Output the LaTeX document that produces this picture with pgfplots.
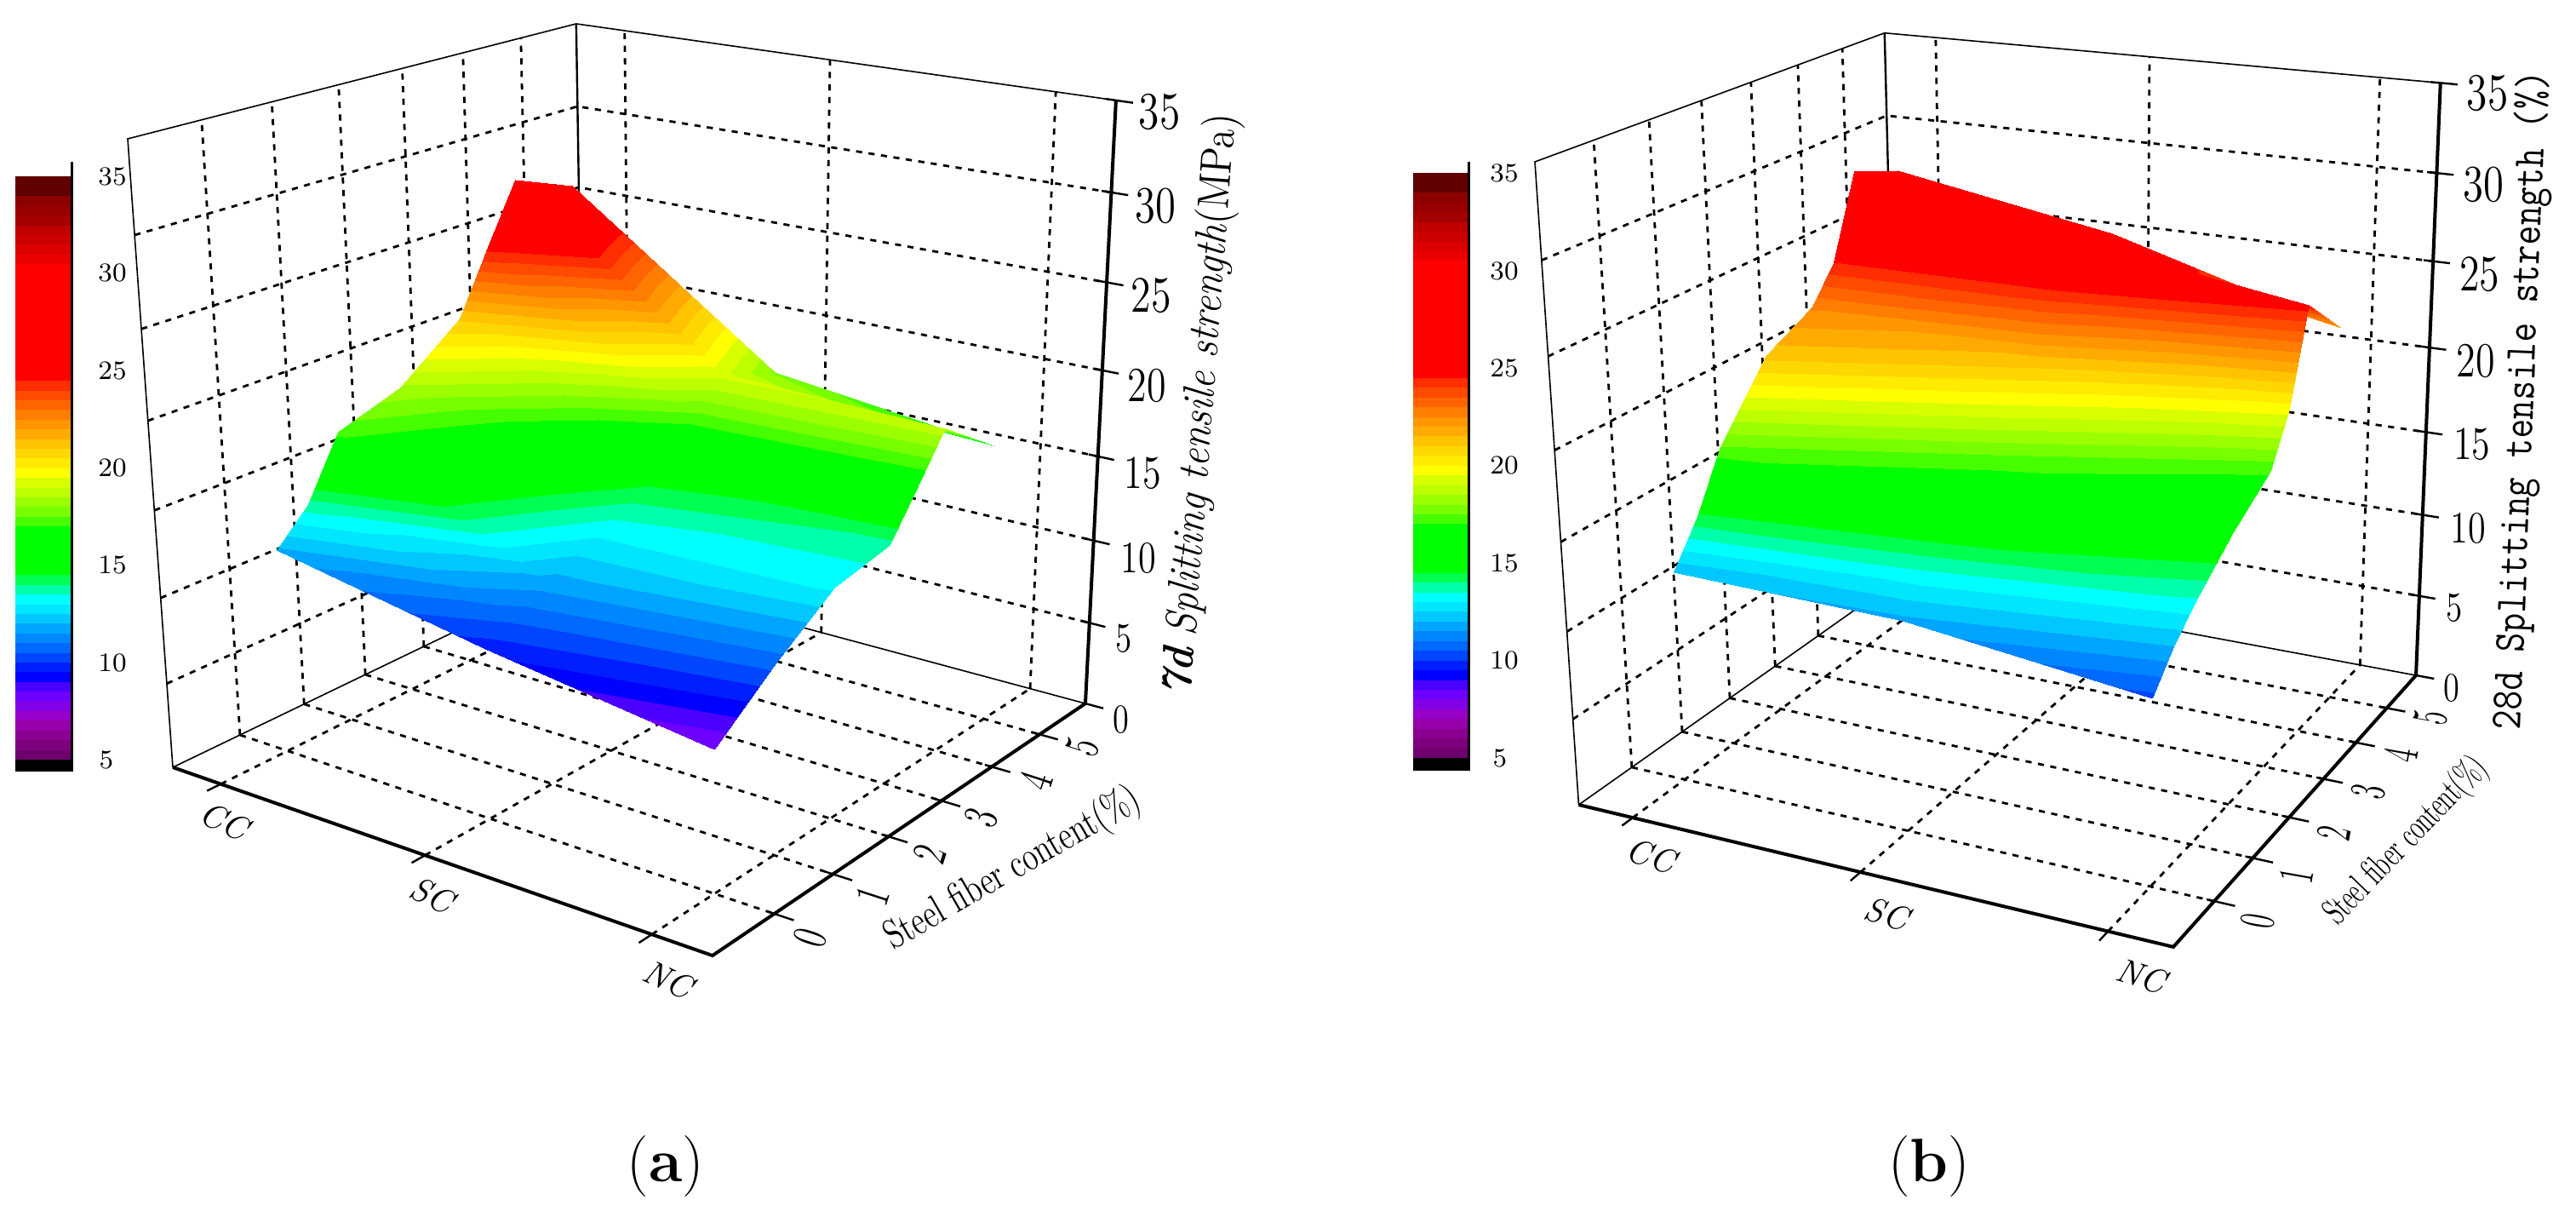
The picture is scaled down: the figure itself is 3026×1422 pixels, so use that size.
\documentclass[border=0pt]{standalone}
\usepackage{pgfplots}
\usepackage{pgfplotstable}
\pgfplotsset{compat=1.18}

% one band per 0.5 MPa, 4.5 (black) up to 35
\pgfplotsset{colormap={bands}{
  rgb255=(0,0,0)
  rgb255=(110,0,110) rgb255=(125,0,125) rgb255=(140,0,145) rgb255=(150,0,170)
  rgb255=(150,0,200) rgb255=(130,0,230) rgb255=(110,0,255) rgb255=(75,0,255)
  rgb255=(0,0,255) rgb255=(0,30,255) rgb255=(0,70,255) rgb255=(0,105,255)
  rgb255=(0,135,255) rgb255=(0,165,255) rgb255=(0,200,255) rgb255=(0,230,255)
  rgb255=(0,255,255) rgb255=(0,255,170) rgb255=(0,255,80)
  rgb255=(0,255,0) rgb255=(0,255,0) rgb255=(0,255,0) rgb255=(0,255,0) rgb255=(0,255,0)
  rgb255=(70,255,0) rgb255=(120,255,0) rgb255=(155,255,0) rgb255=(190,255,0)
  rgb255=(215,255,0) rgb255=(255,255,0)
  rgb255=(255,235,0) rgb255=(255,215,0) rgb255=(255,195,0) rgb255=(255,170,0)
  rgb255=(255,150,0) rgb255=(255,125,0) rgb255=(255,100,0) rgb255=(255,75,0) rgb255=(255,45,0)
  rgb255=(255,0,0) rgb255=(255,0,0) rgb255=(255,0,0) rgb255=(255,0,0)
  rgb255=(255,0,0) rgb255=(255,0,0) rgb255=(255,0,0) rgb255=(255,0,0)
  rgb255=(255,0,0) rgb255=(255,0,0) rgb255=(255,0,0) rgb255=(255,0,0)
  rgb255=(235,0,0) rgb255=(220,0,0) rgb255=(205,0,0) rgb255=(190,0,0)
  rgb255=(165,0,0) rgb255=(150,0,0) rgb255=(140,0,0) rgb255=(96,0,0) rgb255=(96,0,0)
}}

% c: 1=CC 2=SC 3=NC, f: fiber content, z: strength; rear rows first
\pgfplotstableread{
c f z
1 5   26.7
2 5   17.9
3 5   16.4
1 4   28.1
2 4   19.2
3 4   18.8
1 3.5 24.7
2 3.5 17.3
3 3.5 16.3
1 3   21.1
2 3   15.0
3 3   13.8
1 2   18.4
2 2   13.3
3 2   13.1
1 1   17.2
2 1   11.8
3 1   10.7
1 0.5 13.8
2 0.5 10.7
3 0.5 9.4
1 0   11.9
2 0   9.7
3 0   7.95
}\sevenday

\pgfplotstableread{
c f z
1 5   28.1
2 5   25.9
3 5   22.1
1 4   29.2
2 4   26.8
3 4   24.8
1 3.5 24.5
2 3.5 24.3
3 3.5 19.7
1 3   22.6
2 3   21.3
3 3   17.1
1 2   21.2
2 2   17.5
3 2   15.4
1 1   17.5
2 1   14.9
3 1   13.3
1 0.5 14.4
2 0.5 13.2
3 0.5 11.9
1 0   12.1
2 0   11.85
3 0   10.3
}\twentyeightday

% dashed grid on floor and walls
\pgfplotstableread[row sep=\\]{
c f z\\
1 -1 0\\ 1 6 0\\ nan nan nan\\ 2 -1 0\\ 2 6 0\\ nan nan nan\\ 3 -1 0\\ 3 6 0\\ nan nan nan\\
.75 0 0\\ 3.25 0 0\\ nan nan nan\\ .75 1 0\\ 3.25 1 0\\ nan nan nan\\ .75 2 0\\ 3.25 2 0\\ nan nan nan\\
.75 3 0\\ 3.25 3 0\\ nan nan nan\\ .75 4 0\\ 3.25 4 0\\ nan nan nan\\ .75 5 0\\ 3.25 5 0\\ nan nan nan\\
.75 0 0\\ .75 0 35\\ nan nan nan\\ .75 1 0\\ .75 1 35\\ nan nan nan\\ .75 2 0\\ .75 2 35\\ nan nan nan\\
.75 3 0\\ .75 3 35\\ nan nan nan\\ .75 4 0\\ .75 4 35\\ nan nan nan\\ .75 5 0\\ .75 5 35\\ nan nan nan\\
.75 -1 5\\ .75 6 5\\ 3.25 6 5\\ nan nan nan\\ .75 -1 10\\ .75 6 10\\ 3.25 6 10\\ nan nan nan\\
.75 -1 15\\ .75 6 15\\ 3.25 6 15\\ nan nan nan\\ .75 -1 20\\ .75 6 20\\ 3.25 6 20\\ nan nan nan\\
.75 -1 25\\ .75 6 25\\ 3.25 6 25\\ nan nan nan\\ .75 -1 30\\ .75 6 30\\ 3.25 6 30\\ nan nan nan\\
1 6 0\\ 1 6 35\\ nan nan nan\\ 2 6 0\\ 2 6 35\\ nan nan nan\\ 3 6 0\\ 3 6 35\\
}\gridlines

\pgfplotstableread[row sep=\\]{
c f z\\
.75 -1 0\\ .75 -1 35\\ .75 6 35\\ 3.25 6 35\\ nan nan nan\\
.75 -1 0\\ .75 6 0\\ 3.25 6 0\\
}\thinbox

\pgfplotstableread[row sep=\\]{
c f z\\
.75 -1 0\\ 3.25 -1 0\\ 3.25 6 0\\ 3.25 6 35\\
}\thickbox

\pgfplotstableread[row sep=\\]{
c f z\\
.75 6 0\\ .75 6 35\\
}\backedge

\pgfplotstableread[row sep=\\]{
c f z\\
3.25 6 0\\ 3.33 6 0\\ nan nan nan\\ 3.21 6 5\\ 3.32 6 5\\ nan nan nan\\ 3.21 6 10\\ 3.32 6 10\\ nan nan nan\\
3.21 6 15\\ 3.32 6 15\\ nan nan nan\\ 3.21 6 20\\ 3.32 6 20\\ nan nan nan\\ 3.21 6 25\\ 3.32 6 25\\ nan nan nan\\
3.21 6 30\\ 3.32 6 30\\ nan nan nan\\ 3.21 6 35\\ 3.32 6 35\\ nan nan nan\\
3.22 0 0\\ 3.33 0 0\\ nan nan nan\\ 3.22 1 0\\ 3.33 1 0\\ nan nan nan\\ 3.22 2 0\\ 3.33 2 0\\ nan nan nan\\
3.22 3 0\\ 3.33 3 0\\ nan nan nan\\ 3.22 4 0\\ 3.33 4 0\\ nan nan nan\\ 3.22 5 0\\ 3.33 5 0\\ nan nan nan\\
1 -1.2 0\\ 1 -1 0\\ nan nan nan\\ 2 -1.2 0\\ 2 -1 0\\ nan nan nan\\ 3 -1.2 0\\ 3 -1 0\\
}\tickmarks

\pgfplotsset{
  table/proj a/.style={
    x expr={Xa(\thisrow{c},\thisrow{f},\thisrow{z})},
    y expr={Ya(\thisrow{c},\thisrow{f},\thisrow{z})}},
  table/proj b/.style={
    x expr={Xb(\thisrow{c},\thisrow{f},\thisrow{z})},
    y expr={Yb(\thisrow{c},\thisrow{f},\thisrow{z})}},
  wall/.style={black,line width=.7pt,dash pattern=on 1.8pt off 1.9pt,unbounded coords=jump},
  thinline/.style={black,line width=.4pt,unbounded coords=jump},
  thickline/.style={black,line width=1pt},
  tickline/.style={black,line width=.6pt,unbounded coords=jump},
  band surface/.style={surf,shader=interp,colormap access=piecewise constant,
    colormap name=bands,point meta=\thisrow{z}},
}
\tikzset{
  ztick/.style={font=\fontsize{12}{14}\selectfont,xscale=.8,inner sep=0pt},
  bartick/.style={font=\fontsize{7.8}{9}\selectfont,inner sep=0pt},
  fibtick a/.style={font=\fontsize{14.3}{16}\selectfont,rotate=72,xscale=.65,inner sep=0pt},
  fibtick b/.style={font=\fontsize{14.7}{16}\selectfont,rotate=80,xscale=.54,inner sep=0pt},
  cattick/.style={font=\fontsize{10}{12}\selectfont\itshape,inner sep=0pt},
}

\begin{document}
\begin{tikzpicture}
\begin{axis}[
  scale only axis,width=756.5pt,height=355.5pt,
  xmin=0,xmax=3026,ymin=0,ymax=1422,y dir=reverse,
  axis lines=none,clip=false,
  point meta min=4.5,point meta max=35,
  declare function={
    uu(\p)=(\p-0.75)/2.5; vv(\q)=(\q+1)/7; ww(\r)=\r/35;
    Da(\p,\q,\r)=1-0.1224*uu(\p)+0.1694*vv(\q)-0.078*ww(\r);
    Xa(\p,\q,\r)=(203+531.5*uu(\p)+600.4*vv(\q)-64.7*ww(\r))/Da(\p,\q,\r);
    Ya(\p,\q,\r)=(901+83.7*uu(\p)-119.8*vv(\q)-750.7*ww(\r))/Da(\p,\q,\r);
    Db(\p,\q,\r)=1-0.1*uu(\p)+0.1957*vv(\q)-0.078*ww(\r);
    Xb(\p,\q,\r)=(1854.5+443.2*uu(\p)+811.9*vv(\q)-192.1*ww(\r))/Db(\p,\q,\r);
    Yb(\p,\q,\r)=(945+55.8*uu(\p)-131.9*vv(\q)-769.8*ww(\r))/Db(\p,\q,\r);
  },
]
\path (0,0) rectangle (3026,1422);
% panel a
\addplot[wall] table[proj a] {\gridlines};
\addplot[thinline] table[proj a] {\thinbox};
\addplot[thinline,line width=.6pt] table[proj a] {\backedge};
\addplot[thickline] table[proj a] {\thickbox};
\addplot[tickline] table[proj a] {\tickmarks};
\addplot[band surface,mesh/rows=8,mesh/cols=3] table[proj a] {\sevenday};

% panel b
\addplot[wall] table[proj b] {\gridlines};
\addplot[thinline] table[proj b] {\thinbox};
\addplot[thinline,line width=.6pt] table[proj b] {\backedge};
\addplot[thickline] table[proj b] {\thickbox};
\addplot[tickline] table[proj b] {\tickmarks};
\addplot[band surface,mesh/rows=8,mesh/cols=3] table[proj b] {\twentyeightday};

% colour bars
\addplot[band surface,mesh/rows=2,mesh/cols=2]
  table[x=x,y expr={207+(35-\thisrow{z})*22.83}] {
x  z
18 35
83 35
18 4.5
83 4.5
};
\addplot[thickline,line width=.8pt] coordinates {(84.5,190) (84.5,904) (18,904)};
\addplot[band surface,mesh/rows=2,mesh/cols=2]
  table[x=x,y expr={203+(35-\thisrow{z})*22.9}] {
x    z
1660 35
1724 35
1660 4.5
1724 4.5
};
\addplot[thickline,line width=.8pt] coordinates {(1725.5,190) (1725.5,903) (1660,903)};

% colour bar labels
\node[bartick] at (132,207) {35};
\node[bartick] at (132,320) {30};
\node[bartick] at (132,435) {25};
\node[bartick] at (132,549) {20};
\node[bartick] at (132,663) {15};
\node[bartick] at (132,778) {10};
\node[bartick] at (125,892) {5};
\node[bartick] at (1767,203) {35};
\node[bartick] at (1767,318) {30};
\node[bartick] at (1767,432) {25};
\node[bartick] at (1767,546) {20};
\node[bartick] at (1767,661) {15};
\node[bartick] at (1767,775) {10};
\node[bartick] at (1762,890) {5};

% panel a labels
\node[ztick,scale=1.29] at (1362,132) {35};
\node[ztick,scale=1.27] at (1357,242) {30};
\node[ztick,scale=1.25] at (1352,347) {25};
\node[ztick,scale=1.2] at (1347,453) {20};
\node[ztick,scale=1.15] at (1342,556) {15};
\node[ztick,scale=1.1] at (1337,655) {10};
\node[ztick,scale=1.02] at (1320,750) {5};
\node[ztick] at (1317,845) {0};
\node[fibtick a] at (952,1101) {0};
\node[fibtick a] at (1025,1052) {1};
\node[fibtick a] at (1092,1003) {2};
\node[fibtick a] at (1153,960) {3};
\node[fibtick a] at (1217,917) {4};
\node[fibtick a] at (1272,877) {5};
\node[cattick,rotate=-25] at (263,964) {CC};
\node[cattick,rotate=-25] at (507,1051) {SC};
\node[cattick,rotate=-25] at (785,1150) {NC};
\node[font=\fontsize{12}{14}\selectfont,rotate=30,xscale=.75] at (1190,1021) {Steel fiber content(\%)};
\node[font=\fontsize{13}{15}\selectfont,rotate=85.6,xscale=.9] at (1412,475)
  {{\bfseries\itshape 7d} {\itshape Splitting tensile strength}(MPa)};
\node[font=\fontsize{18}{20}\selectfont] at (782,1370) {({\bfseries a})};

% panel b labels
\node[ztick,scale=1.29] at (2922,110) {35};
\node[ztick,scale=1.27] at (2917,217) {30};
\node[ztick,scale=1.25] at (2912.5,322) {25};
\node[ztick,scale=1.2] at (2908,424) {20};
\node[ztick,scale=1.15] at (2903.6,522) {15};
\node[ztick,scale=1.1] at (2899,620) {10};
\node[ztick,scale=1.02] at (2883,714) {5};
\node[ztick] at (2880,808) {0};
\node[fibtick b] at (2652,1082) {0};
\node[fibtick b] at (2698,1028) {1};
\node[fibtick b] at (2742,978) {2};
\node[fibtick b] at (2782,930) {3};
\node[fibtick b] at (2820,886) {4};
\node[fibtick b] at (2855,843) {5};
\node[cattick,rotate=-17] at (1939,1005) {CC};
\node[cattick,rotate=-17] at (2216,1073) {SC};
\node[cattick,rotate=-17] at (2515,1146) {NC};
\node[font=\fontsize{11}{13}\selectfont,rotate=46,xscale=.62] at (2827,988) {Steel fiber content(\%)};
\node[font=\fontsize{13}{15}\ttfamily\selectfont,rotate=87.7,xscale=.85] at (2964,470)
  {28d Splitting tensile strength (\%)};
\node[font=\fontsize{18}{20}\selectfont] at (2266,1370) {({\bfseries b})};
\end{axis}
\end{tikzpicture}
\end{document}
